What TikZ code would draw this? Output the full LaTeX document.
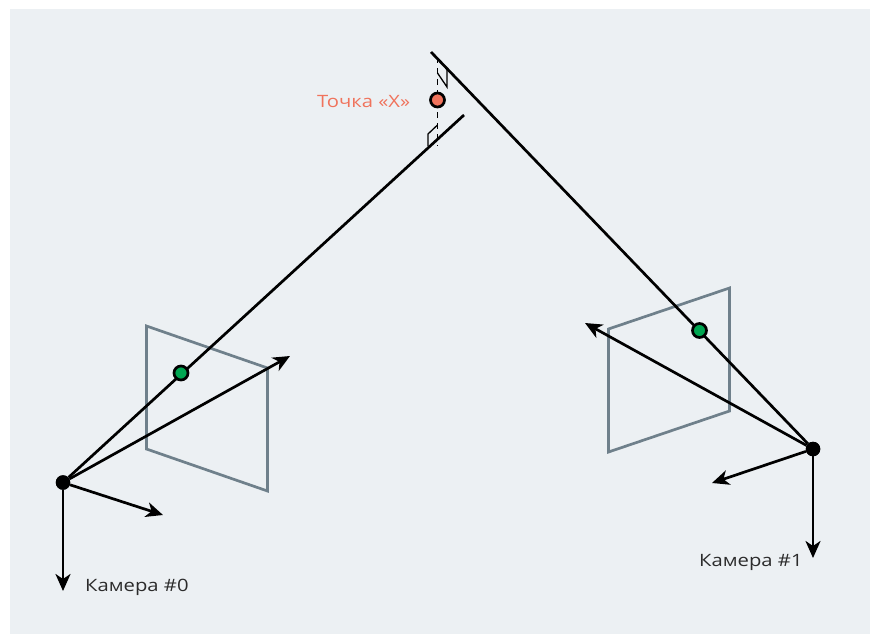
\documentclass[tikz,border=0pt]{standalone}
\usepackage{fontspec}
\setmainfont[FakeStretch=1.19]{Open Sans}
\usetikzlibrary{arrows.meta}
\definecolor{panelbg}{HTML}{ECF0F3}
\definecolor{planeedge}{HTML}{6F808B}
\definecolor{pointred}{HTML}{F0735C}
\definecolor{pointgreen}{HTML}{00A651}
\definecolor{labelgray}{HTML}{2B2B2B}
\tikzset{
  x=1pt,y=-1pt,
  ray/.style={draw=black,line width=2.7pt},
  axis/.style={draw=black,line width=2.7pt,-{Stealth[length=17pt,width=15pt,inset=5pt]}},
  plane/.style={draw=planeedge,line width=2.7pt,line join=miter},
  campt/.style={circle,fill=black,inner sep=0pt,minimum size=14.5pt},
  imgpt/.style={circle,draw=black,line width=2.7pt,fill=pointgreen,inner sep=0pt,minimum size=14pt},
  xpt/.style={circle,draw=black,line width=2.7pt,fill=pointred,inner sep=0pt,minimum size=14pt},
  guide/.style={draw=black,line width=1.3pt,dash pattern=on 6pt off 5pt},
  mark90/.style={draw=black,line width=1.3pt},
  lbl/.style={inner sep=0pt,font=\fontsize{17}{20}\selectfont,text=labelgray,anchor=base west},
}
\begin{document}
\begin{tikzpicture}
\useasboundingbox (0,0) rectangle (878,635);
\fill[panelbg] (10,9) rectangle (870,634);
% image planes
\draw[plane] (146.5,326) -- (267.5,368) -- (267.5,491) -- (146.5,449) -- cycle;
\draw[plane] (608.5,329) -- (729.5,288) -- (729.5,411) -- (608.5,452) -- cycle;
% named points
\node[campt] (c0) at (63,482.5) {};
\node[campt] (c1) at (813,449) {};
\coordinate (r0end) at (464,115);
\coordinate (r1end) at (431,52);
\coordinate (a0) at (290,356);
\coordinate (b0) at (163,515);
\coordinate (d0) at (63,591);
\coordinate (a1) at (585,323);
\coordinate (b1) at (712,483);
\coordinate (d1) at (813,558);
\coordinate (g1) at (437.5,57);
\coordinate (g2) at (437.5,146);
\coordinate (m1a) at (447,70);
\coordinate (m1b) at (447,87);
\coordinate (m1c) at (437.5,73);
\coordinate (m2a) at (428,146);
\coordinate (m2b) at (428,134);
\coordinate (m2c) at (437.5,125);
% guide and right-angle marks
\draw[guide] (g1) -- (g2);
\draw[mark90] (m1a) -- (m1b) -- (m1c);
\draw[mark90] (m2a) -- (m2b) -- (m2c);
% rays
\draw[ray] (c0) -- (r0end);
\draw[ray] (c1) -- (r1end);
% axes
\draw[axis] (c0) -- (a0);
\draw[axis] (c0) -- (b0);
\draw[axis] (c0) -- (d0);
\draw[axis] (c1) -- (a1);
\draw[axis] (c1) -- (b1);
\draw[axis] (c1) -- (d1);
% points on top
\node[campt] at (c0) {};
\node[campt] at (c1) {};
\node[imgpt] (p0) at (181,373) {};
\node[imgpt] (p1) at (699.5,330.5) {};
\node[xpt] (x) at (437.5,100) {};
% labels
\node[lbl] (l0) at (85,591.5) {Камера \#0};
\node[lbl] (l1) at (699,566) {Камера \#1};
\node[lbl,text=pointred] (lx) at (317,107.5) {Точка «X»};
\end{tikzpicture}
\end{document}
